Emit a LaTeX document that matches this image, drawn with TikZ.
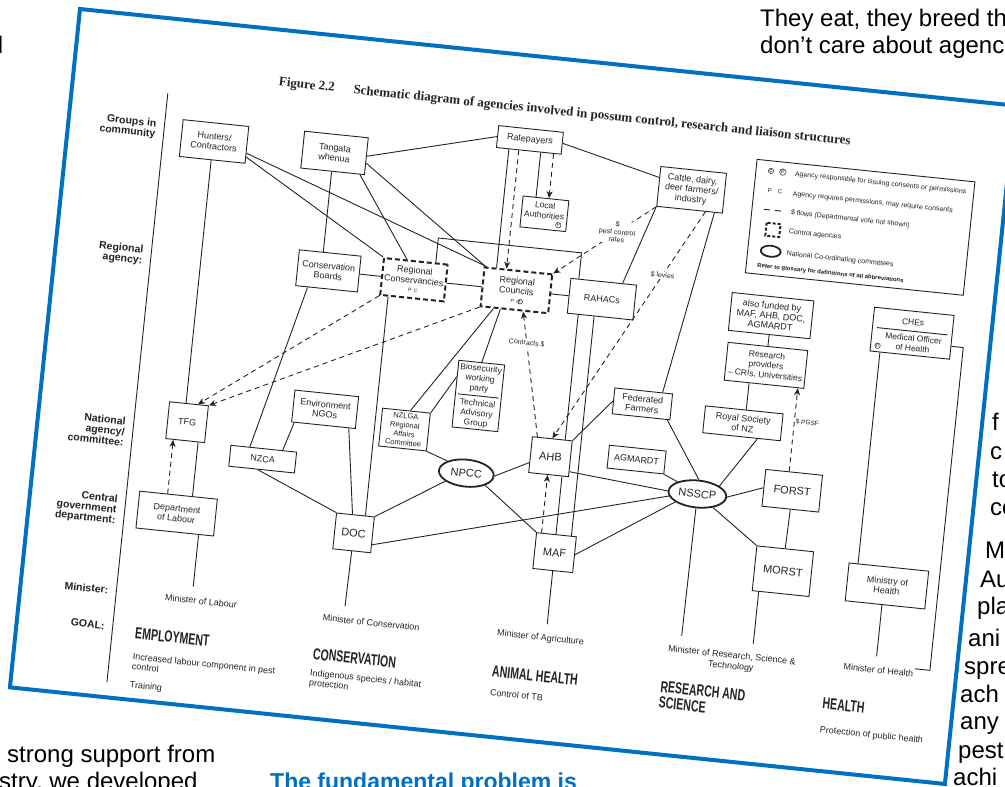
\documentclass[tikz,border=0pt]{standalone}
\usepackage{fontspec}
\setmainfont{Liberation Sans}
\newfontfamily\serifbf{Liberation Serif}
\newfontfamily\goalfont[FakeStretch=0.66]{Liberation Sans}
\usetikzlibrary{calc}
\usetikzlibrary{shapes.geometric}
\usetikzlibrary{arrows.meta}
\definecolor{frameblue}{RGB}{0,112,192}
\definecolor{ink}{RGB}{35,35,35}
\newcommand{\pcfont}{\itshape\fontsize{5}{5}\selectfont}
\tikzset{
  agency/.style={draw=ink, line width=0.9pt, align=center, text=ink, font=\fontsize{9}{10}\selectfont, inner sep=1pt},
  dims/.style 2 args={minimum width=#1pt, minimum height=#2pt},
  controlbox/.style={agency, line width=2pt, dash pattern=on 5pt off 3pt},
  bigbox/.style={agency, font=\fontsize{11}{11}\selectfont},
  committee/.style={ellipse, draw=ink, line width=1.8pt, text=ink, font=\fontsize{11}{11}\selectfont, inner sep=0pt},
  boxtext/.style={align=center, text=ink, font=\fontsize{8.5}{10}\selectfont, inner sep=0pt},
  link/.style={draw=ink, line width=0.9pt},
  money/.style={draw=ink, line width=0.9pt, dash pattern=on 5pt off 4pt, -{Stealth[length=7pt,width=6pt,inset=2pt]}},
  flowlabel/.style={font=\fontsize{7}{7.5}\selectfont, text=ink, fill=white, inner sep=1pt, align=center},
  rowlabel/.style={font=\bfseries\fontsize{10.5}{10.5}\selectfont, text=ink, align=right, anchor=east, inner sep=0pt},
  minister/.style={font=\fontsize{9}{11}\selectfont, text=ink, anchor=north west, inner xsep=0pt, inner ysep=10pt},
  goal/.style={font=\goalfont\bfseries\fontsize{16}{16}\selectfont, text=ink, anchor=base west, inner sep=0pt, align=left},
  aim/.style={font=\fontsize{9}{10}\selectfont, text=ink, anchor=north west, inner sep=0pt, align=left},
  pmark/.style={circle, draw=ink, line width=0.5pt, inner sep=0.3pt, text=ink, font=\fontsize{5}{5}\selectfont},
  legendtext/.style={anchor=west, font=\fontsize{7}{7}\selectfont, text=ink, inner sep=0pt},
  pagetext/.style={font=\fontsize{24}{28}\selectfont, anchor=base west, inner sep=0pt},
}

\begin{document}
\begin{tikzpicture}[x=1pt, y=-1pt]
	\useasboundingbox (0,0) rectangle (1005,787);
	\clip (0,0) rectangle (1005,787);

	% Page text round the figure
	\node[pagetext] (eat1) at (760,27) {They eat, they breed th};
	\node[pagetext] (eat2) at (760,53) {don’t care about agenc};
	\node[pagetext, anchor=base east] (leftd) at (3.5,53) {d};
	\node[pagetext] (support1) at (7,762) {strong support from};
	\node[pagetext] (support2) at (-1,789) {stry, we developed};
	\node[pagetext, text=frameblue, font=\bfseries\fontsize{23}{28}\selectfont] (problem) at (270,789) {The fundamental problem is};
	\foreach \word/\px/\py in {f/992/430, c/990/459, to/992/487, co/990/515, M/985/558, Au/980/587, pla/977/614, ani/968/646, spre/964/674, ach/960/702, any/960/729, pest/958/758, achi/953/785}
		\node[pagetext] (side\py) at (\px,\py) {\word};

	\begin{scope}[shift={(80,9)}, rotate=-5.9, transform shape]
	% Frame
	\draw[frameblue, line width=4pt] (0,0) rectangle (940,682);

	% Title
	\node[anchor=west, text=ink, font=\serifbf\bfseries\fontsize{13}{13}\selectfont] (figno) at (202,53) {Figure 2.2};
	\node[anchor=west, text=ink, font=\serifbf\bfseries\fontsize{13}{13}\selectfont] (figtitle) at (277,53) {Schematic diagram of agencies involved in possum control, research and liaison structures};

	% Levels
	\draw[link] (96,75) -- (96,667);
	\node[rowlabel] (lcommunity) at (88,112) {Groups in\\community};
	\node[rowlabel] (lregional) at (88,239) {Regional\\agency:};
	\node[rowlabel] (lnational) at (88,416) {National\\agency/\\committee:};
	\node[rowlabel] (lcentral) at (88,495) {Central\\government\\department:};
	\node[rowlabel] (lminister) at (88,575) {Minister:};
	\node[rowlabel] (lgoal) at (88,611) {GOAL:};

	% Legend
	\draw[link] (689,80) rectangle (908,194);
	\node[pmark, font=\fontsize{6}{6}\selectfont] (keyc) at (704,90) {c};
	\node[pmark, font=\fontsize{6}{6}\selectfont] (keyp) at (716,90) {p};
	\node[legendtext] (key1) at (728,91) {Agency responsible for issuing consents or permissions};
	\node[text=ink, font=\fontsize{6}{6}\selectfont] (keypc) at (710,110) {P\quad C};
	\node[legendtext] (key2) at (728,111) {Agency requires permissions, may require consents};
	\draw[ink, line width=0.9pt, dash pattern=on 6pt off 5pt] (701,129) -- (719,129);
	\node[legendtext] (key3) at (728,130) {\$ flows (Departmental vote not shown)};
	\draw[ink, line width=2pt, dash pattern=on 3pt off 2pt] (705,142) rectangle (719,155);
	\node[legendtext] (key4) at (728,149) {Control agencies};
	\draw[ink, line width=1.8pt] (712,170) ellipse [x radius=10pt, y radius=5.5pt];
	\node[legendtext] (key5) at (728,171) {National Co-ordinating committees};
	\node[legendtext, font=\bfseries\fontsize{6}{6}\selectfont] (key6) at (700,186) {Refer to glossary for definitions of all abbreviations};

	% Groups in community
	\node[agency, dims={66}{37}] (hunters) at (147,118) {Hunters/\\Contractors};
	\node[agency, dims={64}{37}] (tangata) at (268,117) {Tangata\\whenua};
	\node[agency, dims={65}{22}] (ratepayers) at (461,84) {Ratepayers};
	\node[agency, dims={46}{31}, font=\fontsize{8.5}{10}\selectfont] (localauth) at (483,156) {Local\\Authorities\\[-3pt]~};
	\node[pmark] (lamark) at (498,166) {p};
	\node[agency, dims={66}{40}] (cattle) at (627,117) {Cattle, dairy,\\deer farmers/\\industry};

	% Regional agencies
	\node[agency, dims={62}{36}] (consboards) at (274,235) {Conservation\\Boards};
	\node[controlbox, dims={64}{37}] (regcons) at (360,235) {Regional\\Conservancies\\[-1pt]{\pcfont P\enspace C}};
	\node[controlbox, dims={68}{39}] (regcouncils) at (463,235) {Regional\\Councils\\[-1pt]{\pcfont P\enspace C\hspace{9pt}}};
	\node[pmark] (rcmark) at (468,246) {c};
	\node[agency, dims={66}{35}] (rahacs) at (549,235) {RAHACs};

	% National agencies and committees
	\node[agency, dims={39}{37}] (tfg) at (149,400) {TFG};
	\node[agency, dims={66}{21}] (nzca) at (228,429) {NZCA};
	\node[agency, dims={64}{32}] (envngos) at (285,373) {Environment\\NGOs};
	\node[agency, dims={48}{38}, font=\fontsize{7.5}{9}\selectfont] (nzlga) at (366,385) {NZLGA\\Regional\\Affairs\\Committee};
	\node[agency, dims={46}{67}] (biosec) at (436,344) {};
	\node[boxtext] (biotop) at (436,327) {Biosecurity\\working\\party};
	\draw[link] ($(biosec.west)+(3,0)$) -- ($(biosec.east)+(-3,0)$);
	\node[boxtext] (biobot) at (436,362) {Technical\\Advisory\\Group};
	\node[committee, dims={55}{27}] (npcc) at (432,422) {NPCC};
	\node[bigbox, dims={40}{36}] (ahb) at (514,397) {AHB};
	\node[agency, dims={58}{26}] (fedfarmers) at (600,335) {Federated\\Farmers};
	\node[agency, dims={57}{23}] (agmardt) at (600,391) {AGMARDT};
	\node[committee, dims={58}{27}] (nsscp) at (664,419) {NSSCP};
	\node[agency, dims={82}{38}] (alsofunded) at (719,234) {also funded by\\MAF, AHB, DOC,\\AGMARDT};
	\node[agency, dims={80}{38}, font=\fontsize{8.5}{10}\selectfont] (research) at (719,284) {Research\\providers\\– CRIs, Universities};
	\node[agency, dims={78}{27}] (royal) at (702,344) {Royal Society\\of NZ};
	\node[agency, dims={80}{44}] (ches) at (861,237) {};
	\node[boxtext] (chestop) at (861,226) {CHEs};
	\draw[link] ($(ches.west)+(5,-2)$) -- ($(ches.east)+(-5,-2)$);
	\node[boxtext] (mooh) at (863,247) {Medical Officer\\of Health};
	\node[pmark] (chesmark) at (828,253) {p};

	% Government departments
	\node[agency, dims={78}{37}] (deplabour) at (148,492) {Department\\of Labour};
	\node[bigbox, dims={38}{36}] (doc) at (326,493) {DOC};
	\node[bigbox, dims={40}{36}] (maf) at (528,492) {MAF};
	\node[bigbox, dims={57}{37}] (forst) at (758,406) {FORST};
	\node[bigbox, dims={57}{45}] (morst) at (757,487) {MORST};
	\node[agency, dims={80}{38}] (moh) at (862,491) {Ministry of\\Health};

	% Ministers
	\node[minister] (minlabour) at (145,563) {Minister of Labour};
	\node[minister] (mincons) at (304,567) {Minister of Conservation};
	\node[minister] (minagri) at (479,564) {Minister of Agriculture};
	\node[minister, anchor=north, align=center] (minresearch) at (715,562) {Minister of Research, Science \&\\Technology};
	\node[minister] (minhealth) at (827,562) {Minister of Health};

	% Goals
	\node[goal] (gemploy) at (119,621) {EMPLOYMENT};
	\node[aim] (aemploy) at (119,635) {Increased labour component in pest\\control};
	\node[aim, anchor=base west] (atrain) at (119,670) {Training};
	\node[goal] (gcons) at (298,623) {CONSERVATION};
	\node[aim] (acons) at (297,633) {Indigenous species / habitat\\protection};
	\node[goal] (ganimal) at (478,622) {ANIMAL HEALTH};
	\node[aim] (aanimal) at (478,634) {Control of TB};
	\node[goal, anchor=north west] (gresearch) at (647,608.5) {RESEARCH AND\\SCIENCE};
	\node[goal] (ghealth) at (810,620) {HEALTH};
	\node[aim] (ahealth) at (810,637) {Protection of public health};

	% Links from the community
	\draw[link] (hunters.-20) -- (regcons.north west);
	\draw[link] (hunters.-14) -- ($(regcouncils.north west)+(3,0)$);
	\draw[link] ($(tangata.south east)+(-5,0)$) -- ($(regcons.north)+(-9,0)$);
	\draw[link] (tangata.-12) -- ($(regcouncils.north west)+(2,0)$);
	\draw[link] (tangata.east) -- (ratepayers.west);
	\draw[link] (ratepayers.east) -- (cattle.165);
	\draw[link] ($(tangata.south)+(-1,0)$) -- ($(consboards.north)+(-7,0)$);
	\draw[link] ($(ratepayers.south)+(-20,0)$) -- ($(regcouncils.north)+(-22,0)$);
	\draw[money] ($(ratepayers.south)+(-10,0)$) -- ($(regcouncils.north)+(-12,0)$);
	\draw[link] ($(ratepayers.south)+(12,0)$) -- ($(localauth.north)+(-10,0)$);
	\draw[money] ($(ratepayers.south)+(25,0)$) -- ($(localauth.north)+(3,0)$);
	\draw[money] (cattle.south west) -- node[flowlabel, pos=.38] {\$\\pest control\\rates} (regcouncils.north east);
	\draw[link] (cattle.south west) -- ($(rahacs.north)+(19,0)$);
	\draw[link] ($(cattle.south)+(25,0)$) -- ($(fedfarmers.north)+(19,0)$);
	\draw[money] ($(cattle.south)+(16,0)$) -- node[flowlabel, pos=.28] {\$ levies} (ahb.north);

	% Regional row
	\draw[link] (consboards.east) -- (regcons.west);
	\draw[link] (regcons.east) -- (regcouncils.west);
	\draw[link] (regcouncils.east) -- (rahacs.west);
	\draw[link] ($(regcons.north)+(20,0)$) -- ++(0,-24.5) -| ($(rahacs.north)+(-25,0)$);

	% Employment column
	\draw[link] ($(hunters.south)+(-1,0)$) -- ($(tfg.north)+(-3,0)$);
	\draw[money] (regcons.south west) -- ($(tfg.north)+(9,0)$);
	\draw[money] (regcouncils.south west) -- (tfg.north east);
	\draw[link] ($(tfg.south)+(13,0)$) -- ($(deplabour.north)+(14,0)$);
	\draw[money] ($(deplabour.north)+(-11,0)$) -- ($(tfg.south)+(-12,0)$);
	\draw[link] ($(deplabour.south)+(24,0)$) -- ($(minlabour.north west)+(27,0)$);

	% Conservation column
	\draw[link] ($(consboards.south)+(-19,0)$) -- ($(nzca.north)+(-14,0)$);
	\draw[link] ($(envngos.south west)+(3,0)$) -- ($(nzca.north)+(19,0)$);
	\draw[link] ($(envngos.south east)+(-7,0)$) -- ($(doc.north)+(-3,0)$);
	\draw[link] ($(regcons.south)+(-24,0)$) -- ($(doc.north)+(10,0)$);
	\draw[link] ($(nzca.south)+(-4,0)$) -- (doc.north west);
	\draw[link] (doc.north east) -- (npcc.south west);
	\draw[link] ($(doc.east)+(0,10)$) -- (nsscp.190);
	\draw[link] (doc.south) -- ($(mincons.north west)+(21,0)$);

	% Animal health column
	\draw[link] ($(regcouncils.south)+(-14,0)$) -- (biosec.north);
	\draw[link] ($(regcouncils.south)+(-21,0)$) -- ($(nzlga.north)+(4,0)$);
	\draw[link] ($(biosec.west)+(0,-17)$) -- (nzlga.north east);
	\draw[link] (nzlga.south east) -- (npcc.north west);
	\draw[link] (npcc.east) -- ($(ahb.west)+(0,8)$);
	\draw[link] (npcc.south east) -- (maf.north west);
	\draw[link] ($(ahb.south)+(13.5,0)$) -- ($(maf.north)+(-0.5,0)$);
	\draw[money] ($(maf.north)+(-15,0)$) -- ($(ahb.south)+(-1,0)$);
	\draw[link] ($(rahacs.south)+(-22,0)$) -- ($(ahb.north)+(13,0)$);
	\draw[link] ($(rahacs.south)+(-6,0)$) -- ($(maf.north)+(15,0)$);
	\draw[money] ($(ahb.north)+(-15,0)$) -- node[flowlabel, pos=.75] {Contracts \$} ($(regcouncils.south)+(9,0)$);
	\draw[link] ($(ahb.east)+(0,13)$) -- (nsscp.west);
	\draw[link] (maf.east) -- (nsscp.south west);
	\draw[link] (maf.south) -- ($(minagri.north west)+(49,0)$);
	\draw[link] (fedfarmers.west) -- (ahb.north east);

	% Research column
	\draw[link] (agmardt.south east) -- (nsscp.north west);
	\draw[link] ($(fedfarmers.south east)+(-3,0)$) -- (nsscp.north);
	\draw[link] (alsofunded.south) -- (research.north);
	\draw[link] ($(research.south)+(-15,0)$) -- ($(royal.north)+(2,0)$);
	\draw[link] ($(royal.south)+(16,0)$) -- (nsscp.north east);
	\draw[money] ($(forst.north)+(-5,0)$) -- node[flowlabel, fill=none, right, pos=.6, font=\fontsize{6.5}{7}\selectfont] {\$ PGSF} ($(research.south)+(34,0)$);
	\draw[link] (nsscp.east) -- (forst.west);
	\draw[link] (nsscp.-35) -- (morst.north west);
	\draw[link] (forst.south) -- (morst.north);
	\draw[link] (nsscp.south) -- ($(minresearch.north)+(-52,0)$);
	\draw[link] ($(morst.south)+(-22,0)$) -- ($(minresearch.north)+(20,0)$);

	% Health column
	\draw[link] ($(ches.south)+(-30,0)$) -- ($(moh.north)+(-31,0)$);
	\draw[link] ($(ches.east)+(0,9)$) -| ($(minhealth.east)+(16,-5)$) -- ($(minhealth.east)+(1,-5)$);
	\draw[link] ($(moh.south)+(-3,0)$) -- ($(minhealth.north west)+(32,0)$);
	\end{scope}
\end{tikzpicture}
\end{document}
